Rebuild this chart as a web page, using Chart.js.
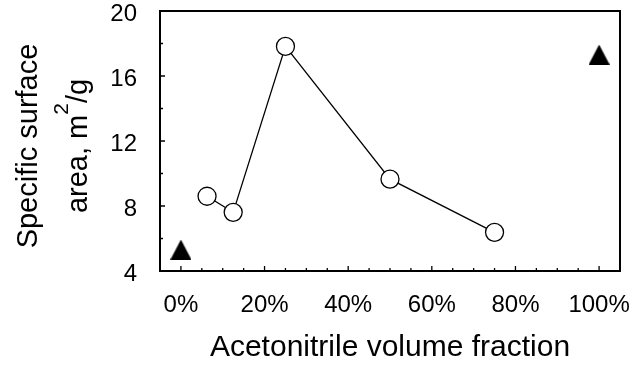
<!DOCTYPE html>
<html>
<head>
<meta charset="utf-8">
<script src="https://cdn.jsdelivr.net/npm/chart.js@4/dist/chart.umd.min.js"></script>
<style>
  html, body { margin: 0; padding: 0; background: #fff; }
  #wrap { width: 632px; height: 366px; }
</style>
</head>
<body>
<div id="wrap"><canvas id="chart" width="632" height="366"></canvas></div>
<script>
// Acetonitrile volume fraction (%) and specific surface area (m²/g)
const mixFraction = [6.25, 12.5, 25, 50, 75];
const mixArea = [8.6, 7.61, 17.82, 9.65, 6.38];

// Pure-solvent reference samples (0% and 100% acetonitrile)
const pureFraction = [0, 100];
const pureArea = [5.32, 17.32];

// Axis tick values
const xTicks = [0, 20, 40, 60, 80, 100];
const xMinorTicks = [5, 10, 15, 25, 30, 35, 45, 50, 55, 65, 70, 75, 85, 90, 95];
const yTicks = [4, 8, 12, 16, 20];
const yMinorTicks = [6, 10, 14, 18];

const FONT = '"Liberation Sans", Arial, Helvetica, sans-serif';
const TICK_SIZE = 24;
const TITLE_SIZE = 29;
const X_TITLE_SIZE = 30;

// Filled triangle marker, centred in its own box
function triangleMarker(w, h) {
  const c = document.createElement('canvas');
  c.width = w; c.height = h;
  const g = c.getContext('2d');
  g.fillStyle = '#000';
  g.beginPath();
  g.moveTo(w / 2, 0);
  g.lineTo(w, h);
  g.lineTo(0, h);
  g.closePath();
  g.fill();
  return c;
}

// Frame around the plot plus inward major/minor tick marks
const frameAndTicks = {
  id: 'frameAndTicks',
  afterDatasetsDraw(chart) {
    const { ctx, chartArea: a, scales: { x, y } } = chart;
    ctx.save();
    ctx.strokeStyle = '#000';
    ctx.lineWidth = 1.3;
    ctx.beginPath();
    const tick = (vals, len, isX) => {
      vals.forEach(v => {
        if (isX) {
          const px = x.getPixelForValue(v);
          ctx.moveTo(px, a.bottom);
          ctx.lineTo(px, a.bottom - len);
        } else {
          const py = y.getPixelForValue(v);
          ctx.moveTo(a.left, py);
          ctx.lineTo(a.left + len, py);
        }
      });
    };
    tick(xTicks, 5, true);
    tick(xMinorTicks, 3, true);
    tick(yTicks, 5, false);
    tick(yMinorTicks, 3, false);
    ctx.stroke();
    ctx.lineWidth = 2;
    ctx.strokeRect(a.left, a.top, a.right - a.left, a.bottom - a.top);
    ctx.restore();
  }
};

// Two-line rotated y-axis title with a raised superscript
const yAxisTitle = {
  id: 'yAxisTitle',
  afterDraw(chart) {
    const { ctx } = chart;
    const cy = 146;
    ctx.save();
    ctx.fillStyle = '#000';
    ctx.rotate(-Math.PI / 2);
    ctx.textBaseline = 'alphabetic';

    ctx.font = TITLE_SIZE + 'px ' + FONT;
    ctx.textAlign = 'center';
    ctx.fillText('Specific surface', -cy, 37);

    const partA = 'area, m', sup = '2', partB = '/g';
    const supFont = '21px ' + FONT;
    ctx.font = TITLE_SIZE + 'px ' + FONT;
    const wA = ctx.measureText(partA).width;
    const wB = ctx.measureText(partB).width;
    ctx.font = supFont;
    const wS = ctx.measureText(sup).width;
    let u = -cy - (wA + wS + wB) / 2;
    ctx.textAlign = 'left';
    ctx.font = TITLE_SIZE + 'px ' + FONT;
    ctx.fillText(partA, u, 87);
    u += wA;
    ctx.font = supFont;
    ctx.fillText(sup, u, 68);
    u += wS;
    ctx.font = TITLE_SIZE + 'px ' + FONT;
    ctx.fillText(partB, u, 87);
    ctx.restore();
  }
};

new Chart(document.getElementById('chart'), {
  type: 'scatter',
  data: {
    datasets: [
      {
        data: mixFraction.map((f, i) => ({ x: f, y: mixArea[i] })),
        showLine: true,
        borderColor: '#000',
        borderWidth: 1.3,
        pointStyle: 'circle',
        pointRadius: 9,
        pointBackgroundColor: '#fff',
        pointBorderColor: '#000',
        pointBorderWidth: 1.3
      },
      {
        data: pureFraction.map((f, i) => ({ x: f, y: pureArea[i] })),
        showLine: false,
        pointStyle: triangleMarker(21, 20),
        pointRadius: 10
      }
    ]
  },
  options: {
    responsive: false,
    animation: false,
    devicePixelRatio: 1,
    events: [],
    layout: { padding: { top: 10.5, right: 12, bottom: 0, left: 0 } },
    plugins: {
      legend: { display: false },
      tooltip: { enabled: false }
    },
    scales: {
      x: {
        type: 'linear',
        min: -5,
        max: 105,
        afterBuildTicks(scale) { scale.ticks = xTicks.map(v => ({ value: v })); },
        afterFit(scale) {
          scale.height = 95;
          scale.paddingLeft = 0;
          scale.paddingRight = 0;
        },
        border: { display: false },
        grid: { display: false, drawTicks: false },
        ticks: {
          padding: 20,
          color: '#000',
          font: { family: FONT, size: TICK_SIZE },
          callback: v => v + '%'
        },
        title: {
          display: true,
          text: 'Acetonitrile volume fraction',
          color: '#000',
          font: { family: FONT, size: X_TITLE_SIZE },
          padding: { top: 0, bottom: 0 }
        }
      },
      y: {
        type: 'linear',
        min: 4,
        max: 20,
        afterBuildTicks(scale) { scale.ticks = yTicks.map(v => ({ value: v })); },
        afterFit(scale) {
          scale.width = 160;
          scale.paddingTop = 0;
          scale.paddingBottom = 0;
        },
        border: { display: false },
        grid: { display: false, drawTicks: false },
        ticks: {
          padding: 23,
          labelOffset: 3,
          color: '#000',
          font: { family: FONT, size: TICK_SIZE }
        }
      }
    }
  },
  plugins: [frameAndTicks, yAxisTitle]
});
</script>
</body>
</html>
